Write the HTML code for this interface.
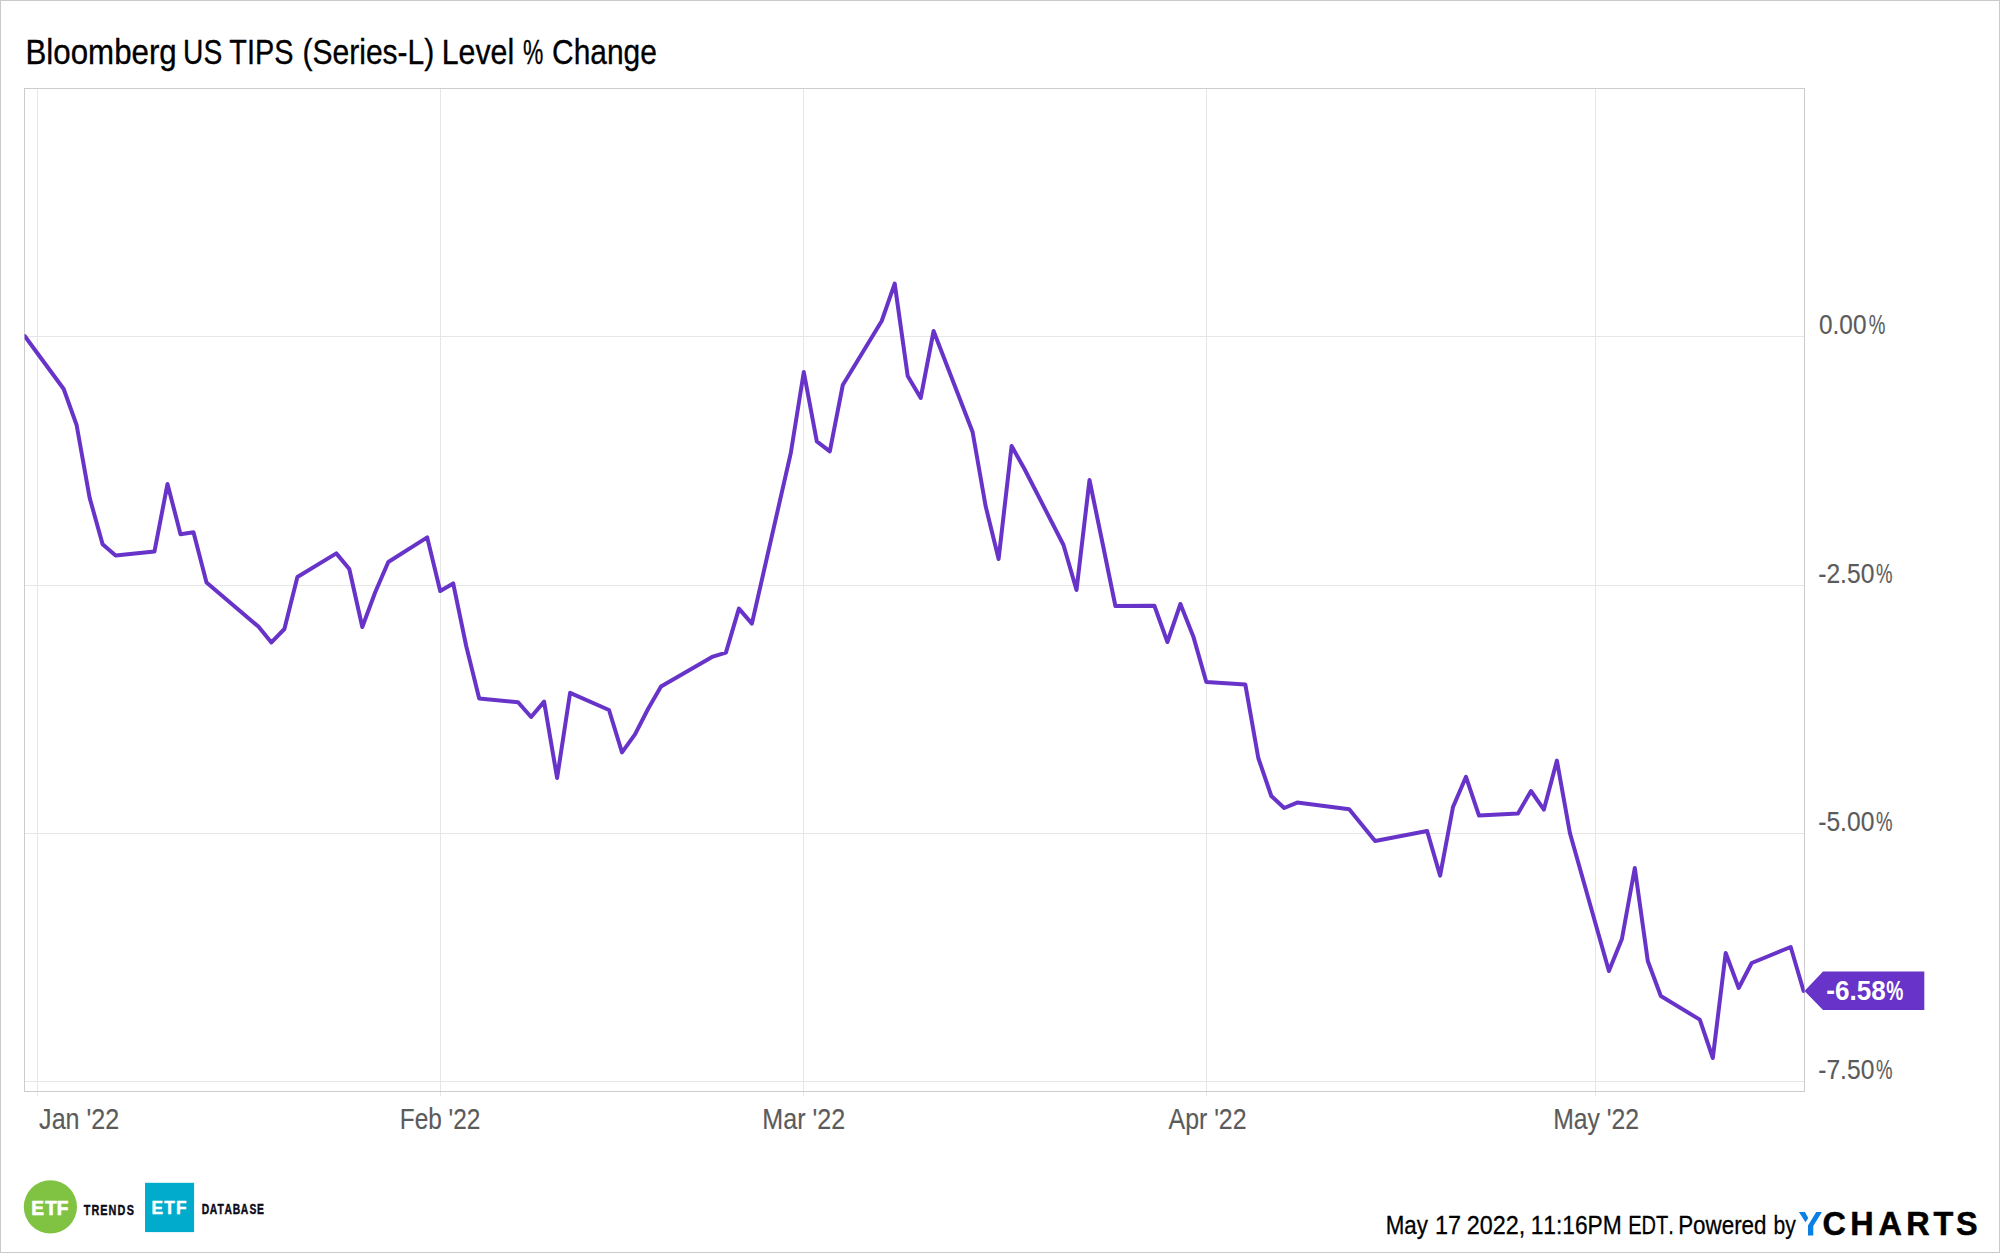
<!DOCTYPE html>
<html lang="en"><head><meta charset="utf-8"><title>Bloomberg US TIPS (Series-L) Level % Change</title>
<style>
html,body{margin:0;padding:0;background:#fff;}
body{width:2000px;height:1253px;overflow:hidden;}
svg{display:block;}
text{font-family:"Liberation Sans",sans-serif;font-kerning:none;}
</style></head><body>
<svg width="2000" height="1253" viewBox="0 0 2000 1253">
<rect x="0" y="0" width="2000" height="1253" fill="#ffffff"/>
<rect x="0.5" y="0.5" width="1999" height="1252" fill="none" stroke="#cacaca" stroke-width="1"/>
<rect x="25" y="336" width="1779" height="1" fill="#e6e6e6"/>
<rect x="25" y="585" width="1779" height="1" fill="#e6e6e6"/>
<rect x="25" y="833" width="1779" height="1" fill="#e6e6e6"/>
<rect x="25" y="1081" width="1779" height="1" fill="#e6e6e6"/>
<rect x="37" y="89" width="1" height="1007" fill="#e6e6e6"/>
<rect x="440" y="89" width="1" height="1007" fill="#e6e6e6"/>
<rect x="803" y="89" width="1" height="1007" fill="#e6e6e6"/>
<rect x="1206" y="89" width="1" height="1007" fill="#e6e6e6"/>
<rect x="1595" y="89" width="1" height="1007" fill="#e6e6e6"/>
<rect x="24.5" y="88.5" width="1780" height="1003" fill="none" stroke="#cccccc" stroke-width="1"/>
<defs><clipPath id="plotclip"><rect x="24.6" y="89" width="1780" height="1002.5"/></clipPath></defs>
<polyline clip-path="url(#plotclip)" points="24.7,336 63.7,389 76.6,425 89.6,497.6 102.6,544.3 115.6,555.5 154.5,551.4 167.5,483.9 180.5,534.2 193.5,532.3 206.5,582.5 258.4,626.6 271.4,642.4 284.4,629 297.4,577 336.3,553.4 349.3,569 362.3,627 375.3,592 388.3,562 427.2,537.4 440.2,591 453.2,583.4 466.2,646 479.2,698.6 518.1,702.2 531.1,717 544.1,701.6 557.1,778 570.1,692.8 609.0,710 622.0,752.4 635.0,734.4 648.0,709 661.0,686.4 712.9,656.6 725.9,652.6 738.9,608.6 751.9,623.6 790.8,453 803.8,372 816.8,441.4 829.8,451.4 842.8,385 881.7,321 894.7,283.6 907.7,376 920.7,398 933.6,331 972.6,432 985.6,506 998.6,559 1011.6,446 1024.5,469 1063.5,545 1076.5,590 1089.5,480 1102.5,543 1115.4,606 1154.4,605.8 1167.4,642 1180.4,604 1193.3,636.4 1206.3,682 1245.3,684.4 1258.3,758 1271.3,796 1284.2,808 1297.2,802.6 1349.2,809.2 1375.1,841 1427.1,831 1440.1,875.6 1453.0,807 1466.0,776.8 1479.0,815.6 1518.0,813.4 1531.0,791 1543.9,809.6 1556.9,760.6 1569.9,833 1608.9,971 1621.9,939 1634.8,868 1647.8,961 1660.8,996 1699.8,1019.6 1712.8,1058 1725.7,953 1738.7,988 1751.7,963 1790.7,947 1803.6,991" fill="none" stroke="#6733c8" stroke-width="4" stroke-linejoin="round" stroke-linecap="round"/>
<path d="M1804.5 991 L1823 971.5 H1924.3 V1010 H1823 Z" fill="#6733c8"/>
<text transform="translate(1826.28,1000) scale(0.9269,1)" font-size="28.2" fill="#ffffff" font-weight="700">-6.58</text>
<text transform="translate(1886.32,1000) scale(0.6814,1)" font-size="28.2" fill="#ffffff" font-weight="700">%</text>
<text transform="translate(25.48,63.7) scale(0.8790,1)" font-size="35.6" fill="#000000" stroke="#000000" stroke-width="0.35">Bloomberg</text>
<text transform="translate(183.12,63.7) scale(0.7920,1)" font-size="35.6" fill="#000000" stroke="#000000" stroke-width="0.35">US</text>
<text transform="translate(229.25,63.7) scale(0.8110,1)" font-size="35.6" fill="#000000" stroke="#000000" stroke-width="0.35">TIPS</text>
<text transform="translate(302.44,63.7) scale(0.8442,1)" font-size="35.6" fill="#000000" stroke="#000000" stroke-width="0.35">(Series-L)</text>
<text transform="translate(441.71,63.7) scale(0.8521,1)" font-size="35.6" fill="#000000" stroke="#000000" stroke-width="0.35">Level</text>
<text transform="translate(522.99,63.7) scale(0.6423,1)" font-size="35.6" fill="#000000" stroke="#000000" stroke-width="0.35">%</text>
<text transform="translate(552.08,63.7) scale(0.8408,1)" font-size="35.6" fill="#000000" stroke="#000000" stroke-width="0.35">Change</text>
<text transform="translate(1819.05,334) scale(0.8637,1)" font-size="28.2" fill="#5b5b5b" stroke="#5b5b5b" stroke-width="0.15">0.00</text>
<text transform="translate(1868.83,334) scale(0.6634,1)" font-size="28.2" fill="#5b5b5b" stroke="#5b5b5b" stroke-width="0.15">%</text>
<text transform="translate(1818.21,583) scale(0.8737,1)" font-size="28.2" fill="#5b5b5b" stroke="#5b5b5b" stroke-width="0.15">-2.50</text>
<text transform="translate(1875.94,583) scale(0.6590,1)" font-size="28.2" fill="#5b5b5b" stroke="#5b5b5b" stroke-width="0.15">%</text>
<text transform="translate(1818.21,831) scale(0.8737,1)" font-size="28.2" fill="#5b5b5b" stroke="#5b5b5b" stroke-width="0.15">-5.00</text>
<text transform="translate(1875.94,831) scale(0.6590,1)" font-size="28.2" fill="#5b5b5b" stroke="#5b5b5b" stroke-width="0.15">%</text>
<text transform="translate(1818.21,1079) scale(0.8737,1)" font-size="28.2" fill="#5b5b5b" stroke="#5b5b5b" stroke-width="0.15">-7.50</text>
<text transform="translate(1875.94,1079) scale(0.6590,1)" font-size="28.2" fill="#5b5b5b" stroke="#5b5b5b" stroke-width="0.15">%</text>
<text transform="translate(39.11,1129) scale(0.8655,1)" font-size="29" fill="#5b5b5b" stroke="#5b5b5b" stroke-width="0.15">Jan &#39;22</text>
<text transform="translate(399.75,1129) scale(0.8425,1)" font-size="29" fill="#5b5b5b" stroke="#5b5b5b" stroke-width="0.15">Feb &#39;22</text>
<text transform="translate(762.34,1129) scale(0.8656,1)" font-size="29" fill="#5b5b5b" stroke="#5b5b5b" stroke-width="0.15">Mar &#39;22</text>
<text transform="translate(1168.55,1129) scale(0.8573,1)" font-size="29" fill="#5b5b5b" stroke="#5b5b5b" stroke-width="0.15">Apr &#39;22</text>
<text transform="translate(1553.17,1129) scale(0.8543,1)" font-size="29" fill="#5b5b5b" stroke="#5b5b5b" stroke-width="0.15">May &#39;22</text>
<text transform="translate(1385.66,1233.6) scale(0.8477,1)" font-size="26.4" fill="#000000" stroke="#000000" stroke-width="0.3">May</text>
<text transform="translate(1434.92,1233.6) scale(0.8876,1)" font-size="26.4" fill="#000000" stroke="#000000" stroke-width="0.3">17</text>
<text transform="translate(1466.82,1233.6) scale(0.8867,1)" font-size="26.4" fill="#000000" stroke="#000000" stroke-width="0.3">2022,</text>
<text transform="translate(1530.67,1233.6) scale(0.8622,1)" font-size="26.4" fill="#000000" stroke="#000000" stroke-width="0.3">11:16PM</text>
<text transform="translate(1628.16,1233.6) scale(0.7596,1)" font-size="26.4" fill="#000000" stroke="#000000" stroke-width="0.3">EDT.</text>
<text transform="translate(1678.16,1233.6) scale(0.8482,1)" font-size="26.4" fill="#000000" stroke="#000000" stroke-width="0.3">Powered</text>
<text transform="translate(1773.44,1233.6) scale(0.7999,1)" font-size="26.4" fill="#000000" stroke="#000000" stroke-width="0.3">by</text>
<path d="M1798.9 1212.1 H1804.85 L1808.25 1217.95 L1805.5 1222.3 Z" fill="#0b7fe3"/>
<path d="M1816.25 1212.1 H1821.95 L1813.27 1226.1 V1235.45 H1807.98 V1225.55 Z" fill="#0b7fe3"/>
<text transform="translate(0,1235.4) scale(0.9678,1)" x="1883.24 1911.89 1940.99 1969.69 1997.85 2021.06" font-size="33.5" fill="#000000" font-weight="700" stroke="#000000" stroke-width="0.5">CHARTS</text>
<circle cx="50.4" cy="1206.9" r="26.6" fill="#80c242"/>
<text transform="translate(0,1214.55) scale(0.9630,1)" x="32.42 46.91 58.92" font-size="19.8" fill="#ffffff" font-weight="700" stroke="#ffffff" stroke-width="0.7">ETF</text>
<text transform="translate(0,1214.7) scale(0.7039,1)" x="118.82 130.01 142.29 154.24 166.89 179.98" font-size="15.4" fill="#0b0b18" font-weight="700" stroke="#0b0b18" stroke-width="0.45">TRENDS</text>
<rect x="145.03" y="1182.8" width="49.07" height="49.3" fill="#00abcb"/>
<text transform="translate(0,1213.9) scale(0.9192,1)" x="164.71 178.72 191.60" font-size="18.8" fill="#ffffff" font-weight="700" stroke="#ffffff" stroke-width="0.5">ETF</text>
<text transform="translate(0,1214.1) scale(0.7211,1)" x="279.70 290.91 301.70 311.18 322.82 334.01 345.88 356.39" font-size="14.3" fill="#0b0b18" font-weight="700" stroke="#0b0b18" stroke-width="0.45">DATABASE</text>
</svg></body></html>
